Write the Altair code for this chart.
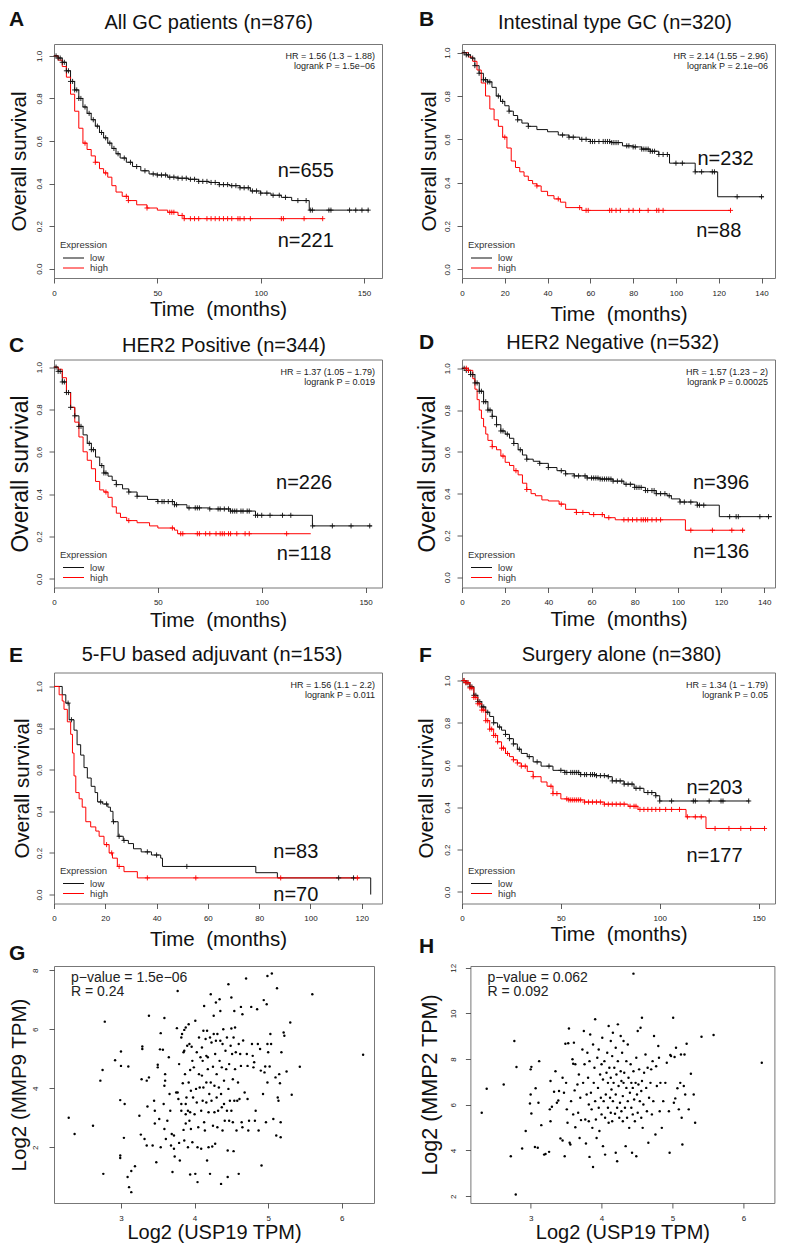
import bisect
import altair as alt
import pandas as pd

FONT = "Liberation Sans"
INK = "#111111"
RED = "#ff0000"
BOX = "#777777"
PLUS = "M-1,0H1M0,-1V1"

# ---------------- Panel A : All GC patients ----------------
A_LOW_T = [0, 2, 4, 6, 8, 10, 12, 14, 16, 18, 20, 22, 24, 26, 28, 30, 32, 35, 38, 42, 46, 50, 55, 60, 65, 70, 75, 80, 85, 90, 95, 100, 105, 110, 115, 123.5]
A_LOW_S = [1.0, 0.99, 0.97, 0.93, 0.88, 0.84, 0.80, 0.76, 0.73, 0.70, 0.67, 0.64, 0.615, 0.59, 0.565, 0.54, 0.52, 0.50, 0.48, 0.46, 0.445, 0.44, 0.43, 0.425, 0.42, 0.41, 0.405, 0.395, 0.39, 0.38, 0.365, 0.355, 0.345, 0.335, 0.32, 0.275]
A_LOW_END = 152.4
A_LOW_CENS = [1, 2, 3, 4, 5, 6, 7, 8, 9, 10, 11, 12, 13, 15, 17, 19, 21, 23, 25, 27, 29, 31, 34, 37, 40, 44, 48, 50, 52, 54, 56, 58, 60, 62, 64, 66, 68, 70, 72, 74, 76, 78, 80, 82, 84, 86, 88, 90, 92, 94, 96, 98, 100, 103, 106, 109, 112, 118, 122, 124, 125, 133, 134, 143, 146, 149, 152]
A_HIGH_T = [0, 2, 4, 6, 8, 10, 12, 14, 16, 18, 20, 22, 24, 26, 28, 30, 33, 36, 40, 45, 50, 55, 60, 63]
A_HIGH_S = [1.0, 0.98, 0.95, 0.90, 0.82, 0.74, 0.66, 0.59, 0.56, 0.53, 0.50, 0.47, 0.45, 0.43, 0.39, 0.36, 0.34, 0.32, 0.30, 0.285, 0.275, 0.265, 0.25, 0.235]
A_HIGH_END = 130
A_HIGH_CENS = [15, 20, 25, 35, 36, 45, 56, 57, 58, 62, 63, 66, 68, 70, 74, 76, 78, 80, 82, 84, 86, 89, 90, 92, 95, 110, 111, 121, 130]

# ---------------- Panel B : Intestinal type GC ----------------
B_LOW_T = [0, 2, 4, 6, 8, 10, 12, 14, 16, 18, 20, 22, 24, 26, 28, 31, 35, 40, 45, 50, 55, 60, 70, 75, 80, 84, 88, 92, 97, 109, 119.5]
B_LOW_S = [1.0, 0.99, 0.975, 0.94, 0.905, 0.875, 0.865, 0.84, 0.80, 0.775, 0.755, 0.73, 0.71, 0.69, 0.675, 0.66, 0.645, 0.635, 0.62, 0.61, 0.60, 0.59, 0.585, 0.57, 0.565, 0.555, 0.545, 0.53, 0.49, 0.45, 0.335]
B_LOW_END = 141
B_LOW_CENS = [1, 2, 3, 5, 6, 8, 10, 11, 12, 13, 17, 19, 22, 26, 31, 47, 50, 52, 56, 58, 60, 61, 62, 64, 66, 67, 68, 69, 70, 71, 72, 73, 77, 78, 80, 81, 84, 85, 86, 87, 88, 89, 90, 92, 94, 96, 100, 103, 109, 112, 117, 118, 128.6, 140]
B_HIGH_T = [0, 3, 5, 7, 9, 11, 13, 15, 17, 19, 21, 23, 25, 27, 29, 31, 33, 35, 37, 40, 43, 46, 48.5, 56]
B_HIGH_S = [1.0, 0.98, 0.96, 0.92, 0.86, 0.80, 0.74, 0.69, 0.66, 0.61, 0.56, 0.50, 0.47, 0.45, 0.43, 0.41, 0.395, 0.385, 0.36, 0.34, 0.325, 0.31, 0.285, 0.272]
B_HIGH_END = 125.5
B_HIGH_CENS = [20, 35, 45, 55, 58, 59, 69, 70, 72, 74, 78, 80, 83, 87, 91, 92, 94, 125.5]

# ---------------- Panel C : HER2 Positive ----------------
C_LOW_T = [0, 2, 4, 6, 8, 10, 12, 14, 16, 18, 20, 22, 24, 26, 28, 30, 33, 36, 40, 45, 50, 58, 64, 75, 85, 97, 124.4]
C_LOW_S = [1.0, 0.98, 0.93, 0.88, 0.81, 0.77, 0.72, 0.68, 0.64, 0.61, 0.575, 0.535, 0.50, 0.485, 0.465, 0.445, 0.425, 0.41, 0.39, 0.375, 0.365, 0.35, 0.335, 0.33, 0.32, 0.30, 0.25]
C_LOW_END = 153
C_LOW_CENS = [1, 2, 3, 4, 5, 6, 7, 8, 10, 12, 13, 17, 18, 19, 23, 24, 25, 30, 36, 40, 50, 52, 53, 55, 57, 58, 59, 65, 68, 69, 70, 75, 79, 80, 82, 84, 85, 86, 87, 88, 90, 91, 93, 94, 97, 98, 100, 104, 110, 114, 124.5, 134, 143, 152]
C_HIGH_T = [0, 2, 4, 6, 8, 10, 12, 14, 16, 18, 20, 22, 24, 26, 28, 30, 32, 35, 40, 46, 50, 58, 59.5]
C_HIGH_S = [1.0, 0.99, 0.95, 0.88, 0.81, 0.74, 0.67, 0.60, 0.56, 0.52, 0.46, 0.42, 0.41, 0.385, 0.34, 0.31, 0.29, 0.275, 0.265, 0.25, 0.24, 0.23, 0.213]
C_HIGH_END = 123.6
C_HIGH_CENS = [25, 36, 57, 61, 62, 69, 70, 73, 75, 78, 80, 81, 82, 84, 85, 88, 92, 94, 112]

# ---------------- Panel D : HER2 Negative ----------------
D_LOW_T = [0, 2, 4, 6, 8, 10, 12, 14, 16, 18, 20, 22, 24, 26, 28, 30, 33, 36, 40, 44, 48, 52, 58, 64, 70, 75, 80, 85, 90, 95, 97, 101, 109, 119.2]
D_LOW_S = [1.0, 0.99, 0.97, 0.93, 0.89, 0.84, 0.80, 0.77, 0.73, 0.70, 0.685, 0.665, 0.64, 0.61, 0.585, 0.565, 0.555, 0.545, 0.525, 0.51, 0.495, 0.485, 0.475, 0.47, 0.46, 0.445, 0.43, 0.415, 0.40, 0.39, 0.375, 0.36, 0.345, 0.29]
D_LOW_END = 143.6
D_LOW_CENS = [1, 2, 3, 4, 5, 6, 7, 8, 9, 10, 11, 12, 13, 14, 16, 18, 19, 21, 24, 27, 30, 36, 40, 46, 48, 52, 54, 57, 58, 60, 61, 62, 63, 64, 65, 66, 67, 68, 69, 70, 72, 74, 76, 78, 80, 81, 82, 83, 85, 86, 88, 89, 90, 92, 94, 96, 101, 103, 106, 109, 110, 112, 124, 127, 128, 138, 142]
D_HIGH_T = [0, 3, 5, 6, 7, 8, 9, 10, 11, 12, 14, 16, 18, 20, 22, 24, 26, 28, 30, 32, 34, 37, 40, 45, 48, 53, 59, 66, 71, 103.5]
D_HIGH_S = [1.0, 0.99, 0.95, 0.90, 0.85, 0.80, 0.76, 0.72, 0.685, 0.655, 0.625, 0.61, 0.58, 0.55, 0.535, 0.51, 0.49, 0.45, 0.42, 0.40, 0.39, 0.37, 0.365, 0.35, 0.325, 0.31, 0.30, 0.285, 0.275, 0.225]
D_HIGH_END = 131
D_HIGH_CENS = [2, 3, 14, 19, 25, 30, 46, 53, 56, 61, 65, 68, 75, 77, 79, 81, 83, 84, 85, 86, 88, 90, 92, 106, 116, 125, 130]

# ---------------- Panel E : 5-FU based adjuvant ----------------
E_LOW_T = [0, 3.2, 4.6, 5.9, 7.8, 9, 10.4, 11.7, 13, 14.5, 16, 17, 19, 21, 22, 23, 25, 27, 29, 31, 34, 38, 41.6, 42.3, 78.7, 87.1, 123.5]
E_LOW_S = [1.0, 0.96, 0.92, 0.84, 0.79, 0.72, 0.67, 0.61, 0.56, 0.52, 0.49, 0.445, 0.435, 0.42, 0.40, 0.35, 0.28, 0.26, 0.245, 0.22, 0.205, 0.19, 0.175, 0.135, 0.105, 0.08, 0.0]
E_LOW_END = 123.5
E_LOW_CENS = [5.5, 6.8, 18.2, 20.5, 23.2, 25.4, 27.3, 36.4, 40, 51.8, 111, 116.8]
E_HIGH_T = [0, 2, 3.2, 3.9, 5.2, 6.5, 7.2, 7.8, 8.5, 9.8, 11, 12.4, 14.3, 16.3, 17.6, 19.5, 21.5, 22.8, 24.7, 27.3, 32.5]
E_HIGH_S = [1.0, 0.96, 0.93, 0.89, 0.83, 0.77, 0.68, 0.57, 0.49, 0.46, 0.42, 0.35, 0.325, 0.305, 0.28, 0.24, 0.20, 0.175, 0.135, 0.11, 0.08]
E_HIGH_END = 119
E_HIGH_CENS = [20.5, 22.5, 25.4, 36.4, 55.3, 88.4, 118.3]

# ---------------- Panel F : Surgery alone ----------------
F_LOW_T = [0, 2, 4, 6, 8, 10, 12, 14, 16, 18, 20, 22, 24, 26, 28, 30, 33, 36, 40, 46, 52, 60, 68, 74, 76, 82, 87, 92, 98, 100]
F_LOW_S = [1.0, 0.99, 0.97, 0.93, 0.90, 0.875, 0.85, 0.83, 0.80, 0.78, 0.765, 0.745, 0.725, 0.70, 0.675, 0.655, 0.64, 0.615, 0.595, 0.575, 0.565, 0.555, 0.55, 0.545, 0.525, 0.51, 0.49, 0.47, 0.455, 0.43]
F_LOW_END = 145.4
F_LOW_CENS = [1, 2, 3, 4, 5, 6, 7, 8, 9, 10, 11, 13, 16, 19, 22, 24, 26, 29, 34, 38, 44, 50, 52, 53, 55, 56, 57, 58, 59, 60, 62, 63, 65, 66, 67, 68, 70, 72, 74, 76, 78, 80, 82, 84, 86, 88, 90, 94, 96, 98, 100, 106, 117, 118, 125, 131, 132, 145]
F_HIGH_T = [0, 2, 4, 6, 8, 10, 12, 14, 16, 18, 20, 22, 24, 26, 28, 30, 33, 36, 40, 43, 46, 50, 54, 62, 72, 84, 89, 113.3, 123.4]
F_HIGH_S = [1.0, 0.99, 0.965, 0.92, 0.89, 0.86, 0.81, 0.77, 0.74, 0.71, 0.68, 0.655, 0.64, 0.625, 0.61, 0.595, 0.57, 0.545, 0.52, 0.50, 0.465, 0.44, 0.435, 0.425, 0.415, 0.405, 0.39, 0.355, 0.30]
F_HIGH_END = 153
F_HIGH_CENS = [1, 2, 3, 4, 5, 6, 7, 8, 9, 10, 11, 12, 13, 14, 15, 16, 17, 18, 20, 21, 23, 26, 28, 30, 32, 36, 45, 46, 48, 53, 54, 55, 56, 57, 58, 59, 60, 62, 64, 66, 68, 70, 72, 74, 76, 78, 80, 82, 85, 87, 88, 90, 92, 94, 96, 98, 100, 103, 106, 110, 114, 118, 121, 128, 135, 141, 146, 153]

# ---------------- Panel G : USP19 vs MMP9 (log2 TPM) ----------------
G_POINTS = [
    (2.29, 3.00), (2.37, 2.45), (2.62, 2.73), (2.72, 4.26), (2.75, 4.62), (2.78, 6.26), (2.76, 1.10), (2.92, 4.95), (2.99, 3.60), (3.00, 5.25),
    (3.00, 4.76), (2.99, 1.72), (2.99, 1.64), (3.05, 3.47), (3.04, 2.32), (3.10, 4.74), (3.09, 0.99), (3.11, 0.65), (3.14, 0.48), (3.14, 1.20),
    (3.19, 1.36), (3.25, 3.07), (3.27, 2.43), (3.28, 4.31), (3.29, 5.42), (3.29, 5.33), (3.32, 2.28), (3.35, 4.26), (3.38, 6.46), (3.35, 2.06),
    (3.36, 3.38), (3.38, 4.37), (3.43, 2.06), (3.45, 3.58), (3.46, 3.24), (3.46, 2.81), (3.48, 1.49), (3.50, 4.80), (3.50, 4.71), (3.52, 2.96),
    (3.53, 5.32), (3.54, 5.87), (3.54, 2.00), (3.57, 5.31), (3.58, 3.47), (3.59, 6.38), (3.59, 4.09), (3.59, 2.62), (3.60, 4.26), (3.60, 4.48),
    (3.61, 2.28), (3.63, 2.90), (3.65, 5.05), (3.66, 3.81), (3.67, 3.24), (3.68, 2.06), (3.69, 2.45), (3.70, 1.16), (3.72, 1.95), (3.72, 2.40),
    (3.73, 1.69), (3.75, 3.86), (3.76, 6.04), (3.77, 7.30), (3.77, 3.86), (3.78, 3.64), (3.79, 4.82), (3.79, 2.15), (3.80, 1.55), (3.82, 5.72),
    (3.82, 3.47), (3.82, 3.24), (3.83, 5.84), (3.84, 4.17), (3.85, 2.59), (3.85, 5.22), (3.86, 5.27), (3.86, 5.98), (3.87, 4.48), (3.88, 3.12),
    (3.88, 3.47), (3.88, 6.06), (3.88, 2.81), (3.89, 3.69), (3.90, 5.44), (3.91, 3.24), (3.91, 2.00), (3.92, 4.20), (3.92, 6.17), (3.93, 5.50),
    (3.93, 2.90), (3.94, 3.19), (3.94, 1.08), (3.94, 4.62), (3.95, 2.62), (3.95, 3.92), (3.96, 5.41), (3.97, 2.17), (3.97, 4.93), (3.98, 3.69),
    (3.99, 4.71), (4.00, 3.12), (4.01, 6.29), (4.01, 1.10), (4.02, 3.98), (4.03, 5.22), (4.03, 3.52), (4.04, 2.00), (4.05, 2.68), (4.06, 4.48),
    (4.06, 5.72), (4.07, 4.03), (4.08, 5.05), (4.09, 3.24), (4.09, 1.95), (4.10, 4.43), (4.10, 5.38), (4.11, 3.58), (4.11, 4.93), (4.12, 5.95),
    (4.12, 4.03), (4.13, 2.85), (4.13, 6.79), (4.14, 2.57), (4.15, 5.67), (4.16, 3.52), (4.16, 5.10), (4.16, 4.20), (4.17, 1.55), (4.17, 5.95),
    (4.18, 5.05), (4.18, 4.65), (4.19, 2.00), (4.19, 3.19), (4.20, 3.81), (4.21, 5.72), (4.21, 1.10), (4.22, 7.19), (4.22, 4.20), (4.23, 5.55),
    (4.23, 3.58), (4.24, 2.03), (4.25, 2.73), (4.25, 4.73), (4.26, 6.46), (4.26, 5.84), (4.27, 4.09), (4.27, 3.19), (4.28, 5.16), (4.28, 2.12),
    (4.29, 5.61), (4.29, 6.91), (4.30, 3.69), (4.30, 4.48), (4.31, 2.68), (4.31, 5.84), (4.32, 3.24), (4.33, 4.03), (4.34, 7.02), (4.34, 4.93),
    (4.35, 5.61), (4.35, 6.62), (4.36, 0.76), (4.36, 3.81), (4.37, 4.71), (4.37, 3.36), (4.38, 5.50), (4.38, 2.57), (4.39, 6.00), (4.40, 4.26),
    (4.40, 3.47), (4.41, 2.90), (4.42, 5.27), (4.43, 4.65), (4.44, 5.72), (4.44, 3.24), (4.45, 0.99), (4.45, 1.89), (4.46, 7.53), (4.46, 3.98),
    (4.47, 4.82), (4.47, 2.90), (4.48, 3.58), (4.49, 5.44), (4.50, 7.08), (4.50, 3.24), (4.50, 6.03), (4.51, 5.16), (4.52, 4.31), (4.52, 2.85),
    (4.53, 5.72), (4.53, 1.87), (4.54, 3.58), (4.54, 6.62), (4.55, 4.65), (4.55, 6.06), (4.56, 5.22), (4.57, 2.57), (4.58, 3.58), (4.59, 4.20),
    (4.60, 5.50), (4.60, 1.10), (4.61, 3.64), (4.62, 5.16), (4.63, 6.76), (4.63, 4.76), (4.64, 2.85), (4.65, 6.51), (4.65, 2.68), (4.66, 5.62),
    (4.68, 3.86), (4.70, 7.72), (4.71, 5.16), (4.72, 4.76), (4.72, 3.64), (4.73, 2.57), (4.74, 2.90), (4.77, 6.76), (4.78, 5.50), (4.79, 5.10),
    (4.80, 4.71), (4.81, 4.88), (4.82, 2.90), (4.83, 3.24), (4.85, 6.68), (4.86, 5.50), (4.87, 2.57), (4.89, 5.33), (4.90, 4.60), (4.91, 1.38),
    (4.93, 3.81), (4.94, 6.99), (4.95, 4.54), (4.96, 4.74), (4.97, 2.85), (4.98, 6.85), (4.99, 4.20), (4.99, 5.50), (4.99, 7.81), (5.00, 5.22),
    (5.02, 4.74), (5.03, 5.84), (5.04, 5.50), (5.05, 7.89), (5.07, 2.96), (5.10, 4.37), (5.12, 7.39), (5.13, 3.69), (5.14, 3.58), (5.15, 4.48),
    (5.16, 4.17), (5.17, 2.85), (5.17, 2.34), (5.18, 5.22), (5.21, 5.89), (5.22, 5.78), (5.25, 4.57), (5.30, 6.23), (5.32, 3.78), (5.11, 2.40),
    (5.43, 4.73), (5.60, 7.19), (6.29, 5.14), (3.86, 2.23), (4.04, 0.82),
]

# ---------------- Panel H : USP19 vs MMP2 (log2 TPM) ----------------
H_POINTS = [
    (2.31, 5.65), (2.38, 6.70), (2.62, 6.89), (2.72, 3.75), (2.77, 8.79), (2.79, 2.07), (2.80, 7.65), (2.88, 4.09), (2.93, 4.85), (2.99, 6.06),
    (3.00, 6.45), (3.00, 7.55), (3.01, 7.66), (3.01, 5.62), (3.06, 4.15), (3.07, 6.72), (3.10, 4.12), (3.11, 6.09), (3.12, 7.91), (3.15, 5.11),
    (3.19, 3.82), (3.21, 3.85), (3.26, 3.94), (3.27, 5.80), (3.28, 5.28), (3.28, 7.04), (3.30, 5.91), (3.33, 6.57), (3.35, 7.47), (3.37, 6.09),
    (3.39, 6.19), (3.40, 6.60), (3.42, 4.53), (3.45, 7.18), (3.45, 4.44), (3.47, 6.53), (3.48, 3.75), (3.49, 8.67), (3.50, 6.96), (3.51, 5.80),
    (3.52, 5.21), (3.53, 8.69), (3.54, 9.34), (3.55, 4.34), (3.56, 4.26), (3.57, 6.16), (3.59, 7.99), (3.60, 5.58), (3.60, 7.80), (3.61, 8.72),
    (3.62, 6.63), (3.63, 5.02), (3.63, 7.77), (3.66, 6.89), (3.67, 5.65), (3.68, 7.33), (3.69, 4.55), (3.70, 6.31), (3.71, 5.33), (3.73, 8.42),
    (3.74, 6.96), (3.75, 9.23), (3.76, 7.77), (3.77, 5.36), (3.78, 4.31), (3.79, 6.45), (3.80, 8.28), (3.81, 7.18), (3.82, 6.01), (3.82, 5.28),
    (3.83, 3.72), (3.83, 7.91), (3.84, 9.08), (3.85, 6.53), (3.86, 5.80), (3.87, 4.99), (3.88, 8.64), (3.88, 3.28), (3.89, 6.96), (3.90, 7.62),
    (3.91, 6.16), (3.91, 9.74), (3.92, 5.36), (3.93, 4.55), (3.94, 8.06), (3.95, 6.74), (3.96, 8.42), (3.96, 5.87), (3.97, 4.85), (3.98, 7.33),
    (3.99, 6.31), (4.00, 7.77), (4.00, 5.58), (4.01, 8.93), (4.02, 7.11), (4.02, 4.19), (4.03, 6.16), (4.04, 7.91), (4.05, 5.43), (4.05, 3.82),
    (4.06, 6.45), (4.07, 7.40), (4.08, 8.28), (4.09, 5.87), (4.09, 6.96), (4.10, 5.21), (4.10, 9.45), (4.11, 7.62), (4.12, 6.31), (4.13, 8.79),
    (4.13, 5.65), (4.13, 7.18), (4.14, 6.67), (4.15, 5.28), (4.15, 8.13), (4.16, 6.16), (4.16, 9.15), (4.17, 6.96), (4.18, 7.62), (4.19, 5.61),
    (4.20, 3.90), (4.20, 6.45), (4.20, 8.50), (4.21, 7.33), (4.22, 5.87), (4.22, 3.53), (4.23, 9.52), (4.23, 7.91), (4.24, 6.82), (4.25, 5.43),
    (4.26, 6.09), (4.27, 9.01), (4.27, 7.47), (4.28, 7.04), (4.28, 5.72), (4.29, 8.28), (4.30, 6.38), (4.30, 5.28), (4.31, 8.79), (4.31, 6.96),
    (4.32, 7.40), (4.33, 5.87), (4.34, 4.19), (4.35, 7.91), (4.35, 6.74), (4.36, 5.43), (4.37, 6.16), (4.37, 8.64), (4.38, 7.18), (4.39, 4.99),
    (4.40, 6.53), (4.41, 7.77), (4.42, 5.87), (4.42, 6.96), (4.43, 3.90), (4.44, 5.58), (4.44, 6.74), (4.45, 11.74), (4.45, 7.47), (4.46, 6.23),
    (4.47, 5.28), (4.48, 6.96), (4.49, 3.75), (4.49, 8.06), (4.50, 6.45), (4.51, 5.65), (4.51, 9.23), (4.52, 6.89), (4.53, 7.55), (4.54, 6.16),
    (4.55, 9.37), (4.56, 6.60), (4.56, 5.43), (4.57, 9.81), (4.57, 7.04), (4.58, 4.99), (4.59, 6.01), (4.60, 7.40), (4.62, 8.20), (4.63, 6.74),
    (4.64, 5.72), (4.65, 7.62), (4.66, 4.34), (4.67, 6.31), (4.69, 6.96), (4.70, 7.55), (4.71, 5.58), (4.72, 7.91), (4.73, 6.16), (4.74, 9.01),
    (4.76, 4.70), (4.77, 7.69), (4.78, 6.82), (4.80, 8.57), (4.81, 8.06), (4.82, 5.72), (4.83, 6.96), (4.85, 4.99), (4.87, 6.16), (4.90, 6.96),
    (4.92, 7.84), (4.95, 5.72), (4.96, 3.90), (4.97, 8.18), (4.98, 8.13), (5.01, 9.81), (5.02, 6.09), (5.03, 8.09), (5.04, 6.28), (5.05, 8.50),
    (5.07, 6.72), (5.09, 5.80), (5.11, 6.96), (5.12, 8.20), (5.13, 5.43), (5.14, 4.26), (5.16, 6.82), (5.17, 8.20), (5.18, 6.45), (5.20, 8.67),
    (5.23, 5.80), (5.26, 7.36), (5.30, 6.45), (5.32, 5.21), (5.41, 8.98), (5.58, 9.05), (6.26, 7.84),
]

ONE = pd.DataFrame({"k": [0]})


def step_value(ts, ss, c):
    i = bisect.bisect_right(ts, c) - 1
    return ss[max(i, 0)]


def curve_rows(ts, ss, end, grp):
    rows = [{"t": t, "s": s, "grp": grp} for t, s in zip(ts, ss)]
    if end > ts[-1]:
        rows.append({"t": end, "s": ss[-1], "grp": grp})
    return rows


def cens_rows(ts, ss, cens, grp):
    return [{"t": c, "s": step_value(ts, ss, c), "grp": grp} for c in cens]


def note(text, x, y, size, align="left", weight="normal", color=INK):
    return alt.Chart(ONE).mark_text(
        font=FONT, fontSize=size, fontWeight=weight, align=align, baseline="middle", color=color
    ).encode(x=alt.value(x), y=alt.value(y), text=alt.value(text))


def rule(x1, x2, y, color):
    return alt.Chart(ONE).mark_rule(color=color, strokeWidth=1).encode(
        x=alt.value(x1), x2=alt.value(x2), y=alt.value(y)
    )


def km_panel(letter, title, low, high, hr, nlab, w, h, xdom, xticks, ydom, L):
    lt, ls, le, lc = low
    ht, hs, he, hc = high
    lines = pd.DataFrame(curve_rows(lt, ls, le, "low") + curve_rows(ht, hs, he, "high"))
    cens = pd.DataFrame(cens_rows(lt, ls, lc, "low") + cens_rows(ht, hs, hc, "high"))
    labs = pd.DataFrame({"t": [nlab[0][0], nlab[1][0]], "s": [nlab[0][1], nlab[1][1]],
                         "lab": [nlab[0][2], nlab[1][2]]})
    x = alt.X("t:Q", scale=alt.Scale(domain=xdom, nice=False, zero=False),
              axis=alt.Axis(values=xticks, format="d", title="Time\u00a0 (months)", titleFontSize=20.5,
                            titleX=w / 2, titleY=L["xty"], titleAlign="center", titleBaseline="middle",
                            labelFontSize=8, labelPadding=6, tickSize=5, labelFlush=False,
                            labelOverlap=False))
    y = alt.Y("s:Q", scale=alt.Scale(domain=ydom, nice=False, zero=False),
              axis=alt.Axis(values=[0, 0.2, 0.4, 0.6, 0.8, 1.0], format=".1f", labelAngle=270,
                            labelAlign="center", labelBaseline="bottom", labelPadding=6, tickSize=5,
                            labelFontSize=8, labelFlush=False, labelOverlap=False,
                            title="Overall survival", titleFontSize=L["yts"], titleX=L["ytx"],
                            titleY=h / 2, titleAngle=270, titleAlign="center", titleBaseline="middle"))
    color = alt.Color("grp:N", scale=alt.Scale(domain=["low", "high"], range=[INK, RED]), legend=None)
    curves = alt.Chart(lines).mark_line(interpolate="step-after", strokeWidth=1).encode(x=x, y=y, color=color)
    marks = alt.Chart(cens).mark_point(shape=PLUS, size=26, strokeWidth=0.9, filled=False, opacity=1).encode(
        x=x, y=y, color=color)
    ntext = alt.Chart(labs).mark_text(font=FONT, fontSize=20, color=INK, baseline="middle").encode(
        x=x, y=y, text="lab:N")
    layers = [
        curves, marks, ntext,
        note(letter, L["lx"], L["ly"], 21, weight="bold"),
        note(title, L["tx"], L["ty"], 20, align="center"),
        note(hr[0], w - 7, 12, 9, align="right", color="#222"),
        note(hr[1], w - 7, 22, 9, align="right", color="#222"),
        note("Expression", 6, h - 33, 9.5, color="#333"),
        rule(9, 30, h - 20, INK), rule(9, 30, h - 10, RED),
        note("low", 36, h - 20, 9.5, color="#333"),
        note("high", 36, h - 10, 9.5, color="#333"),
    ]
    return alt.layer(*layers).properties(width=w, height=h)


def scatter_panel(letter, pts, ylab, pv, rv, w, h, xdom, ydom, yticks, L):
    df = pd.DataFrame(pts, columns=["usp", "mmp"])
    x = alt.X("usp:Q", scale=alt.Scale(domain=xdom, nice=False, zero=False),
              axis=alt.Axis(values=[3, 4, 5, 6], format="d", title="Log2 (USP19 TPM)", titleFontSize=20,
                            titleX=w / 2, titleY=29, titleAlign="center", titleBaseline="middle",
                            labelFontSize=8, labelPadding=6, tickSize=5, labelFlush=False, labelOverlap=False))
    y = alt.Y("mmp:Q", scale=alt.Scale(domain=ydom, nice=False, zero=False),
              axis=alt.Axis(values=yticks, format="d", labelAngle=270, labelAlign="center",
                            labelBaseline="bottom", labelPadding=L["lp"], tickSize=5, labelFontSize=8,
                            labelFlush=False, labelOverlap=False, title=ylab, titleFontSize=L["yts"],
                            titleX=L["ytx"], titleY=h / 2, titleAngle=270, titleAlign="center",
                            titleBaseline="middle"))
    dots = alt.Chart(df).mark_circle(size=6, color="black", opacity=1).encode(x=x, y=y)
    layers = [
        dots,
        note(letter, L["lx"], L["ly"], 21, weight="bold"),
        note(pv, 17, 12, 14, color="#222"),
        note(rv, 17, 26, 14, color="#222"),
    ]
    return alt.layer(*layers).properties(width=w, height=h)


ROW_W_L, ROW_W_R = 328, 313

panel_a = km_panel("A", "All GC patients (n=876)",
                   (A_LOW_T, A_LOW_S, A_LOW_END, A_LOW_CENS), (A_HIGH_T, A_HIGH_S, A_HIGH_END, A_HIGH_CENS),
                   ("HR = 1.56 (1.3 \u2212 1.88)", "logrank P = 1.5e\u221206"),
                   [(121.8, 0.459, "n=655"), (121.8, 0.13, "n=221")],
                   ROW_W_L, 234, [0, 158.7], [0, 50, 100, 150], [-0.044, 1.056],
                   dict(lx=-45, ly=-24, tx=154.7, ty=-21, xty=31, ytx=-35, yts=20.5))
panel_b = km_panel("B", "Intestinal type GC (n=320)",
                   (B_LOW_T, B_LOW_S, B_LOW_END, B_LOW_CENS), (B_HIGH_T, B_HIGH_S, B_HIGH_END, B_HIGH_CENS),
                   ("HR = 2.14 (1.55 \u2212 2.96)", "logrank P = 2.1e\u221206"),
                   [(123.2, 0.508, "n=232"), (120, 0.177, "n=88")],
                   ROW_W_R, 234, [0, 146.3], [0, 20, 40, 60, 80, 100, 120, 140], [-0.04, 1.04],
                   dict(lx=-43, ly=-24, tx=153, ty=-21, xty=36, ytx=-33, yts=20.5))
panel_c = km_panel("C", "HER2 Positive (n=344)",
                   (C_LOW_T, C_LOW_S, C_LOW_END, C_LOW_CENS), (C_HIGH_T, C_HIGH_S, C_HIGH_END, C_HIGH_CENS),
                   ("HR = 1.37 (1.05 \u2212 1.79)", "logrank P = 0.019"),
                   [(120.4, 0.452, "n=226"), (120.4, 0.115, "n=118")],
                   ROW_W_L, 228, [0, 157.9], [0, 50, 100, 150], [-0.041, 1.036],
                   dict(lx=-45, ly=-14, tx=170, ty=-14, xty=33, ytx=-33.5, yts=23))
panel_d = km_panel("D", "HER2 Negative (n=532)",
                   (D_LOW_T, D_LOW_S, D_LOW_END, D_LOW_CENS), (D_HIGH_T, D_HIGH_S, D_HIGH_END, D_HIGH_CENS),
                   ("HR = 1.57 (1.23 \u2212 2)", "logrank P = 0.00025"),
                   [(120, 0.45, "n=396"), (120, 0.12, "n=136")],
                   ROW_W_R, 228, [0, 145], [0, 20, 40, 60, 80, 100, 120, 140], [-0.049, 1.042],
                   dict(lx=-43, ly=-17, tx=150.7, ty=-17, xty=31.5, ytx=-34.7, yts=23))
panel_e = km_panel("E", "5-FU based adjuvant (n=153)",
                   (E_LOW_T, E_LOW_S, E_LOW_END, E_LOW_CENS), (E_HIGH_T, E_HIGH_S, E_HIGH_END, E_HIGH_CENS),
                   ("HR = 1.56 (1.1 \u2212 2.2)", "logrank P = 0.011"),
                   [(94.3, 0.206, "n=83"), (94.3, 0.0, "n=70")],
                   ROW_W_L, 231, [0, 127.9], [0, 20, 40, 60, 80, 100, 120], [-0.043, 1.067],
                   dict(lx=-45, ly=-17, tx=158, ty=-18, xty=36, ytx=-32, yts=20.5))
panel_f = km_panel("F", "Surgery alone (n=380)",
                   (F_LOW_T, F_LOW_S, F_LOW_END, F_LOW_CENS), (F_HIGH_T, F_HIGH_S, F_HIGH_END, F_HIGH_CENS),
                   ("HR = 1.34 (1 \u2212 1.79)", "logrank P = 0.05"),
                   [(127.7, 0.492, "n=203"), (127.7, 0.169, "n=177")],
                   ROW_W_R, 231, [0, 158.3], [0, 50, 100, 150], [-0.055, 1.038],
                   dict(lx=-43, ly=-17, tx=159.5, ty=-18, xty=31, ytx=-35.5, yts=20.5))
panel_g = scatter_panel("G", G_POINTS, "Log2 (MMP9 TPM)", "p\u2212value = 1.5e\u221206", "R = 0.24",
                        320, 237, [2.09, 6.438], [0.112, 8.146], [2, 4, 6, 8],
                        dict(lx=-45, ly=-12.5, ytx=-35, yts=20.5, lp=10))
panel_h = scatter_panel("H", H_POINTS, "Log2 (MMP2 TPM)", "p\u2212value = 0.062", "R = 0.092",
                        304, 237, [2.15, 6.438], [1.702, 12.074], [2, 4, 6, 8, 10, 12],
                        dict(lx=-51.4, ly=-19.5, ytx=-40.4, yts=21.5, lp=8))

row1 = alt.hconcat(panel_a, panel_b, spacing=80, bounds="flush")
row2 = alt.hconcat(panel_c, panel_d, spacing=80, bounds="flush")
row3 = alt.hconcat(panel_e, panel_f, spacing=80, bounds="flush")
row4 = alt.hconcat(panel_g, panel_h, spacing=96.4, bounds="flush")

rows12 = alt.vconcat(row1, row2, spacing=5.5)
rows123 = alt.vconcat(rows12, row3, spacing=11.5)
chart = alt.vconcat(rows123, row4, spacing=-16, padding=0)

chart = chart.configure_view(stroke=BOX, strokeWidth=1).configure_axis(
    domain=False, grid=False, labelFont=FONT, titleFont=FONT, titleFontWeight="normal",
    labelColor="#222", tickColor="#333", tickWidth=0.8, titleColor=INK
).configure_text(font=FONT)

chart.save("out.html", embed_options={"renderer": "svg", "actions": False})
